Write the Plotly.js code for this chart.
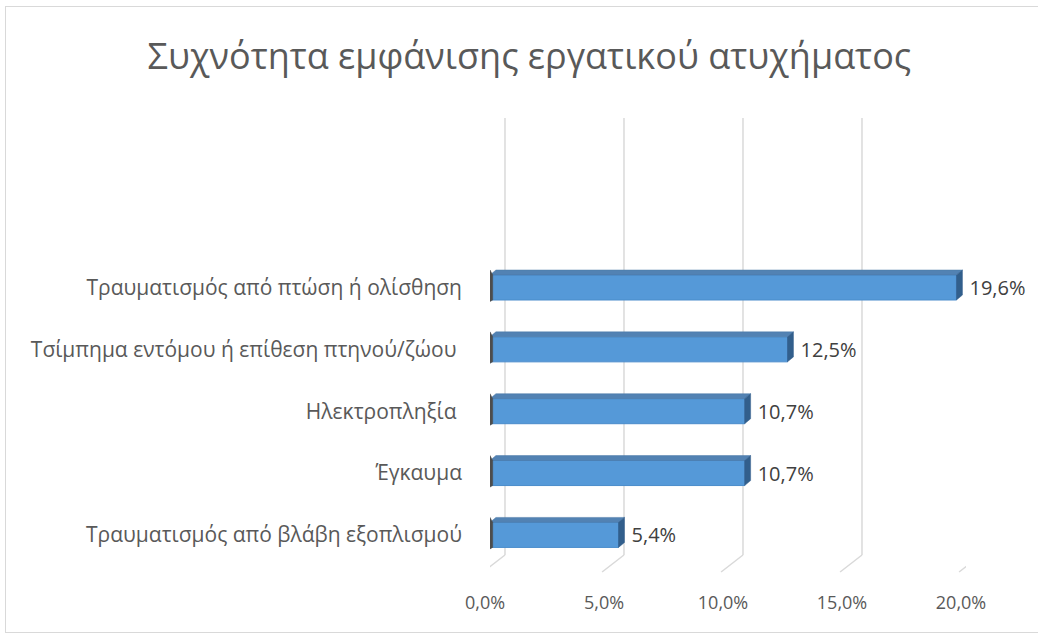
<!DOCTYPE html>
<html><head><meta charset="utf-8">
<script src="https://cdn.plot.ly/plotly-3.0.1.min.js"></script>
<style>
html,body{margin:0;padding:0;background:#fff;}
#wrap{position:relative;width:1038px;height:639px;overflow:hidden;}
#frame{position:absolute;left:5px;top:6px;width:1040px;height:627px;border:1px solid #d9d9d9;box-sizing:border-box;pointer-events:none;z-index:5;}
#chart{position:absolute;left:0;top:0;width:1038px;height:639px;}
</style></head>
<body>
<div id="wrap"><div id="chart"></div><div id="frame"></div></div>
<script>
const categories = [
  "Τραυματισμός από πτώση ή ολίσθηση",
  "Τσίμπημα εντόμου ή επίθεση πτηνού/ζώου ",
  "Ηλεκτροπληξία ",
  "Έγκαυμα",
  "Τραυματισμός από βλάβη εξοπλισμού"
];
const values = [19.6, 12.5, 10.7, 10.7, 5.4];
const tickVals = [0, 5, 10, 15, 20];

const fmt = v => v.toFixed(1).replace('.', ',') + '%';
const tickText = tickVals.map(fmt);
const labelText = values.map(v => '\u2002' + fmt(v));

const barWidth = 0.405;
const dx = 0.25;   // bar depth offset (x data units)
const dy = 0.08;   // bar depth offset (category units)
const backX = 0.63;   // back wall offset (x units)
const frontX = -0.29; // front floor offset (x units)
const backBottom = 0.0374; // paper y of back wall bottom
const edgeTop = 0.9626;

const font = "Open Sans, DejaVu Sans, sans-serif";
const gridCol = '#d9d9d9';
const shapes = [];
tickVals.forEach(t => {
  shapes.push({type:'line', xref:'x', yref:'paper', layer:'below',
    x0:t+backX, x1:t+backX, y0:backBottom, y1:1, line:{color:gridCol, width:1.5}});
  shapes.push({type:'line', xref:'x', yref:'paper', layer:'below',
    x0:t+backX, x1:t+frontX, y0:backBottom, y1:0, line:{color:gridCol, width:1.5}});
});
shapes.push({type:'line', xref:'x', yref:'paper', layer:'below',
  x0:frontX, x1:frontX, y0:0, y1:edgeTop, line:{color:gridCol, width:1.5}});

categories.forEach((c, i) => {
  const v = values[i];
  const top = i - barWidth / 2, bot = i + barWidth / 2;
  shapes.push({type:'path', xref:'x', yref:'y', layer:'above',
    path:`M0,${top} L${v},${top} L${v+dx},${top-dy} L${dx},${top-dy} Z`,
    fillcolor:'#5282b3', line:{color:'#4a78a6', width:0.5}});
  shapes.push({type:'path', xref:'x', yref:'y', layer:'above',
    path:`M${v},${top} L${v+dx},${top-dy} L${v+dx},${bot-dy} L${v},${bot} Z`,
    fillcolor:'#325f8c', line:{color:'#325f8c', width:0.5}});
  shapes.push({type:'path', xref:'x', yref:'y', layer:'above',
    path:`M0,${top-dy} L${dx*0.45},${top} L${dx*0.45},${bot} L0,${bot+dy*0.3} Z`,
    fillcolor:'#4d4d4d', line:{color:'#4d4d4d', width:0.5}});
});

const trace = {
  type:'bar', orientation:'h',
  x: values, y: categories,
  width: barWidth,
  text: labelText, texttemplate:'%{text}',
  marker:{color:'#5599d8', line:{color:'#4a8ccb', width:1}},
  textposition:'outside', cliponaxis:false, constraintext:'none',
  textfont:{family:font, size:20, color:'#404040'},
  hoverinfo:'skip'
};

const layout = {
  width:1038, height:639,
  margin:{l:490, r:72, t:118, b:67},
  paper_bgcolor:'#fff', plot_bgcolor:'rgba(0,0,0,0)',
  title:{text:'Συχνότητα εμφάνισης εργατικού ατυχήματος',
    font:{family:font, size:36, color:'#595959'},
    x:0.51, xanchor:'center', y:0.911, yanchor:'middle'},
  xaxis:{range:[0,20], tickvals:tickVals, ticktext:tickText,
    showgrid:false, zeroline:false,
    showline:false, ticks:'', ticklabelstandoff:18, ticklabelshift:-5,
    tickfont:{family:font, size:18, color:'#595959'}, fixedrange:true},
  yaxis:{type:'category', categoryorder:'array', categoryarray:categories,
    range:[4.6, -2.74], showgrid:false, zeroline:false, showline:false,
    ticks:'', ticklabelstandoff:27,
    tickfont:{family:font, size:21, color:'#595959'}, fixedrange:true},
  shapes: shapes,
  showlegend:false
};
Plotly.newPlot('chart', [trace], layout, {displayModeBar:false, staticPlot:true});
</script>
</body></html>
